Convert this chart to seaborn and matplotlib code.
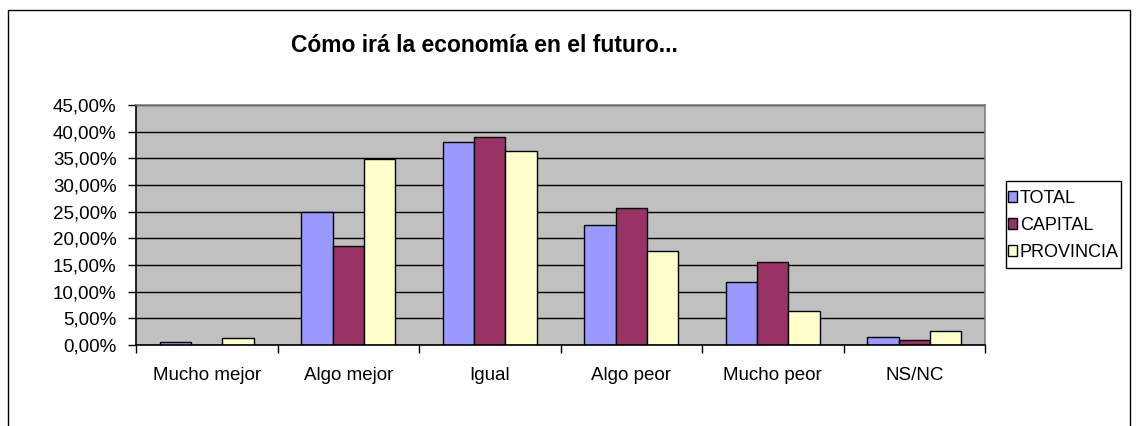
import pandas as pd
import matplotlib
matplotlib.use('Agg')
import matplotlib.pyplot as plt
from matplotlib.patches import Rectangle
from matplotlib.ticker import FuncFormatter, FixedLocator
import seaborn as sns

categorias = ['Mucho mejor', 'Algo mejor', 'Igual', 'Algo peor', 'Mucho peor', 'NS/NC']
total = [0.5, 25.0, 38.0, 22.5, 11.9, 1.5]
capital = [0.0, 18.5, 39.0, 25.7, 15.6, 1.0]
provincia = [1.3, 34.8, 36.4, 17.7, 6.3, 2.6]
series = ['TOTAL', 'CAPITAL', 'PROVINCIA']
colores = ['#9999FF', '#993366', '#FFFFCC']
titulo = 'Cómo irá la economía en el futuro...'

df = pd.DataFrame({
    'categoria': categorias * 3,
    'valor': total + capital + provincia,
    'serie': [s for s in series for _ in categorias],
})

sns.set_style('white')
plt.rcParams['font.family'] = ['Liberation Sans', 'DejaVu Sans']
plt.rcParams['text.color'] = 'black'
plt.rcParams['xtick.color'] = 'black'
plt.rcParams['ytick.color'] = 'black'

W, H = 1138, 426
fig = plt.figure(figsize=(W / 100, H / 100), dpi=100)
ax = fig.add_axes([136 / W, 81 / H, 849 / W, 240 / H])

sns.barplot(data=df, x='categoria', y='valor', hue='serie', palette=colores,
            order=categorias, hue_order=series, width=3 / 4.5, gap=0,
            edgecolor='black', linewidth=1, saturation=1, ax=ax)

ax.set_facecolor('#C0C0C0')
ax.set_ylim(0, 45)
ax.set_xlim(-0.5, 5.5)
ax.set_yticks(range(0, 46, 5))
ax.yaxis.set_major_formatter(FuncFormatter(lambda v, p: f'{v:.2f}%'.replace('.', ',')))
ax.yaxis.grid(True, color='black', linewidth=1)
ax.set_axisbelow(True)
ax.set_xlabel('')
ax.set_ylabel('')

ax.tick_params(axis='y', which='major', direction='out', length=6, width=1,
               color='black', labelcolor='black', labelsize=13.5, pad=8, left=True)
ax.tick_params(axis='x', which='major', length=0, labelsize=13.5,
               labelcolor='black', pad=16)
ax.xaxis.set_minor_locator(FixedLocator([i - 0.5 for i in range(len(categorias) + 1)]))
ax.tick_params(axis='x', which='minor', direction='out', length=6, width=1,
               color='black', bottom=True)

for s in ['left', 'bottom']:
    ax.spines[s].set_color('black')
    ax.spines[s].set_linewidth(1.2)
for s in ['top', 'right']:
    ax.spines[s].set_color('#808080')
    ax.spines[s].set_linewidth(1.2)

# legend without frame, box drawn separately
leg = ax.legend(loc='upper left', bbox_to_anchor=(1008 / W, 1 - 190 / H),
                bbox_transform=fig.transFigure, fontsize=13, frameon=False,
                handlelength=0.5, handleheight=0.5, handletextpad=0.15,
                labelspacing=0.55, borderpad=0, borderaxespad=0)
for t in leg.get_texts():
    t.set_color('black')
for h in leg.legend_handles:
    h.set_edgecolor('black')
    h.set_linewidth(1)

fig.patches.append(Rectangle((1006 / W, 1 - 268 / H), 115 / W, 87 / H,
                             transform=fig.transFigure, fill=False,
                             edgecolor='black', linewidth=1))

fig.text(484 / W, 1 - 45 / H, titulo, ha='center', va='center',
         fontsize=16.5, fontweight='bold', color='black')

fig.patches.append(Rectangle((8 / W, -0.1), 1122 / W, 1.1 - 10 / H,
                             transform=fig.transFigure, fill=False,
                             edgecolor='black', linewidth=1))

fig.savefig('out.png', dpi=100, facecolor='white')
